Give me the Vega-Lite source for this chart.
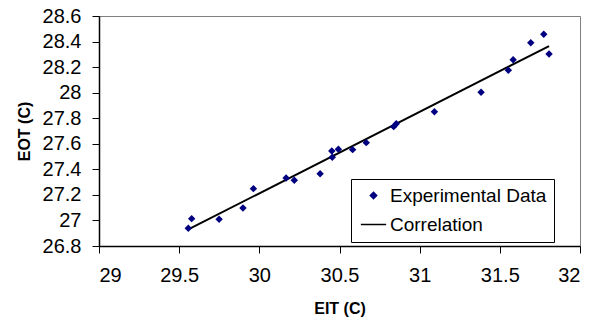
{
  "$schema": "https://vega.github.io/schema/vega-lite/v6.json",
  "width": 481,
  "height": 230,
  "autosize": {"type": "none"},
  "padding": {"left": 99, "top": 16, "right": 22, "bottom": 74},
  "background": "white",
  "config": {
    "font": "Liberation Sans",
    "view": {"stroke": "#808080", "strokeWidth": 1},
    "axis": {
      "grid": false,
      "domainColor": "black",
      "domainWidth": 1.5,
      "tickColor": "black",
      "tickSize": 7,
      "labelOverlap": false,
      "labelFont": "Liberation Sans",
      "labelFontSize": 20,
      "labelColor": "black",
      "titleFont": "Liberation Sans",
      "titleFontSize": 16,
      "titleFontWeight": "bold",
      "titleColor": "black"
    },
    "legend": {
      "orient": "none",
      "legendX": 252,
      "legendY": 163,
      "padding": 7,
      "strokeColor": "black",
      "fillColor": "white",
      "labelFont": "Liberation Sans",
      "labelFontSize": 19,
      "labelLimit": 400,
      "labelColor": "black",
      "symbolSize": 40,
      "symbolOffset": 6,
      "labelOffset": 7,
      "rowPadding": 9
    }
  },
  "datasets": {
    "exp": [
      {"EIT": 29.557, "EOT": 26.939, "series": "Experimental Data"},
      {"EIT": 29.578, "EOT": 27.014, "series": "Experimental Data"},
      {"EIT": 29.749, "EOT": 27.009, "series": "Experimental Data"},
      {"EIT": 29.898, "EOT": 27.098, "series": "Experimental Data"},
      {"EIT": 29.963, "EOT": 27.249, "series": "Experimental Data"},
      {"EIT": 30.167, "EOT": 27.332, "series": "Experimental Data"},
      {"EIT": 30.218, "EOT": 27.314, "series": "Experimental Data"},
      {"EIT": 30.379, "EOT": 27.366, "series": "Experimental Data"},
      {"EIT": 30.452, "EOT": 27.544, "series": "Experimental Data"},
      {"EIT": 30.455, "EOT": 27.494, "series": "Experimental Data"},
      {"EIT": 30.493, "EOT": 27.557, "series": "Experimental Data"},
      {"EIT": 30.582, "EOT": 27.554, "series": "Experimental Data"},
      {"EIT": 30.667, "EOT": 27.609, "series": "Experimental Data"},
      {"EIT": 30.838, "EOT": 27.734, "series": "Experimental Data"},
      {"EIT": 30.854, "EOT": 27.757, "series": "Experimental Data"},
      {"EIT": 31.092, "EOT": 27.851, "series": "Experimental Data"},
      {"EIT": 31.383, "EOT": 28.003, "series": "Experimental Data"},
      {"EIT": 31.553, "EOT": 28.175, "series": "Experimental Data"},
      {"EIT": 31.583, "EOT": 28.258, "series": "Experimental Data"},
      {"EIT": 31.693, "EOT": 28.391, "series": "Experimental Data"},
      {"EIT": 31.774, "EOT": 28.457, "series": "Experimental Data"},
      {"EIT": 31.807, "EOT": 28.303, "series": "Experimental Data"}
    ],
    "fit": [
      {"EIT": 29.551, "EOT": 26.926, "series": "Correlation"},
      {"EIT": 31.807, "EOT": 28.365, "series": "Correlation"}
    ]
  },
  "encoding": {
    "x": {
      "field": "EIT",
      "type": "quantitative",
      "title": "EIT (C)",
      "scale": {"domain": [29, 32], "nice": false, "zero": false},
      "axis": {"values": [29, 29.5, 30, 30.5, 31, 31.5, 32], "format": "~g", "labelPadding": 12, "titlePadding": 15, "labelOverlap": false}
    },
    "y": {
      "field": "EOT",
      "type": "quantitative",
      "title": "EOT (C)",
      "scale": {"domain": [26.8, 28.6], "nice": false, "zero": false},
      "axis": {"values": [26.8, 27, 27.2, 27.4, 27.6, 27.8, 28, 28.2, 28.4, 28.6], "format": "~g", "labelPadding": 11, "titlePadding": 10, "labelOverlap": false, "labelBound": false, "labelFlush": false, "labelSeparation": 0}
    }
  },
  "layer": [
    {
      "data": {"name": "fit"},
      "mark": {"type": "line", "strokeWidth": 2, "clip": true},
      "encoding": {
        "color": {"field": "series", "type": "nominal"}
      }
    },
    {
      "data": {"name": "exp"},
      "mark": {"type": "point", "filled": true, "size": 55, "opacity": 1},
      "encoding": {
        "color": {
          "field": "series",
          "type": "nominal",
          "scale": {"domain": ["Experimental Data", "Correlation"], "range": ["#000080", "#000000"]},
          "legend": {
            "title": null,
            "encode": {
              "symbols": {
                "update": {
                  "stroke": {"scale": "color", "field": "value"},
                  "strokeWidth": {"signal": "datum.value === 'Correlation' ? 2 : 0"}
                }
              }
            }
          }
        },
        "shape": {
          "field": "series",
          "type": "nominal",
          "scale": {"domain": ["Experimental Data", "Correlation"], "range": ["M0,-1L1,0L0,1L-1,0Z", "M-4,0H4"]},
          "legend": {
            "title": null,
            "encode": {
              "symbols": {
                "update": {
                  "stroke": {"scale": "color", "field": "value"},
                  "strokeWidth": {"signal": "datum.value === 'Correlation' ? 2 : 0"}
                }
              }
            }
          }
        }
      }
    }
  ]
}
